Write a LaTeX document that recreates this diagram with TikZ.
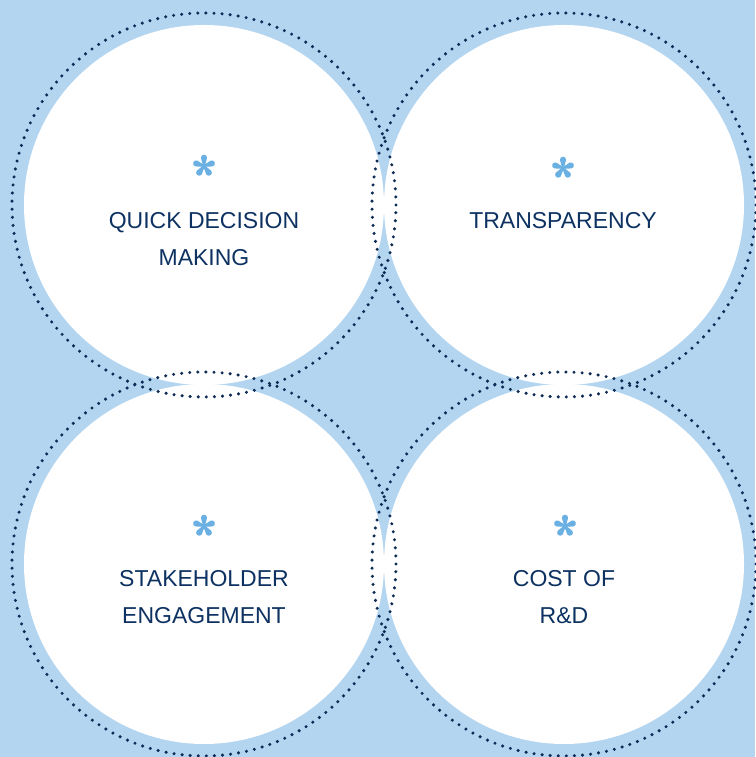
\documentclass[tikz,border=0pt]{standalone}
\usepackage{fontspec}
\setmainfont{Liberation Sans}
\usetikzlibrary{calc}
\definecolor{bgblue}{HTML}{B3D5F0}
\definecolor{navy}{HTML}{0D3262}
\definecolor{dotnavy}{HTML}{0D2B55}
\definecolor{starblue}{HTML}{6AB0E2}
\newcommand{\myast}[1]{%
  \begin{scope}[shift={(#1)}]
  \fill[starblue] (0,0) circle[radius=1.8];
  \foreach \a in {90,18,162,-54,-126}{
    \fill[starblue] (\a+90:0.9) -- ($(\a:8.2)+(\a+90:3.1)$) arc[start angle=\a+90,end angle=\a-90,radius=3.1] -- (\a-90:0.9) -- cycle;
  }
  \end{scope}}
\begin{document}
\begin{tikzpicture}[x=1pt,y=1pt,
  disc/.style={circle,fill=white,minimum size=360pt,inner sep=0pt},
  ring/.style={draw=dotnavy,line width=3.4pt,line cap=round,dash pattern=on 0pt off 8.1pt},
  label/.style={text=navy,align=center,font=\fontsize{23}{37}\selectfont,anchor=base,inner sep=0pt}]
\fill[bgblue] (0,0) rectangle (755,757);
\useasboundingbox (0,0) rectangle (755,757);
% discs
\node[disc] (tl) at (204,552) {};
\node[disc] (tr) at (564,552) {};
\node[disc] (bl) at (204,193) {};
\node[disc] (br) at (564,193) {};
% dotted rings
\foreach \c in {tl,tr,bl,br}{
  \draw[ring] (\c.center) circle[radius=192];
}
% asterisks
\myast{$(tl.center)+(0,39)$}
\myast{$(tr.center)+(-1,37)$}
\myast{$(bl.center)+(0,38)$}
\myast{$(br.center)+(1,38)$}
% labels
\node[label] (tlt) at ($(tl.center)+(0,-61)$) {QUICK DECISION\\MAKING};
\node[label] (trt) at ($(tr.center)+(-1,-24)$) {TRANSPARENCY};
\node[label] (blt) at ($(bl.center)+(0,-60)$) {STAKEHOLDER\\ENGAGEMENT};
\node[label] (brt) at ($(br.center)+(0,-60)$) {COST OF\\R\&D};
\end{tikzpicture}
\end{document}
